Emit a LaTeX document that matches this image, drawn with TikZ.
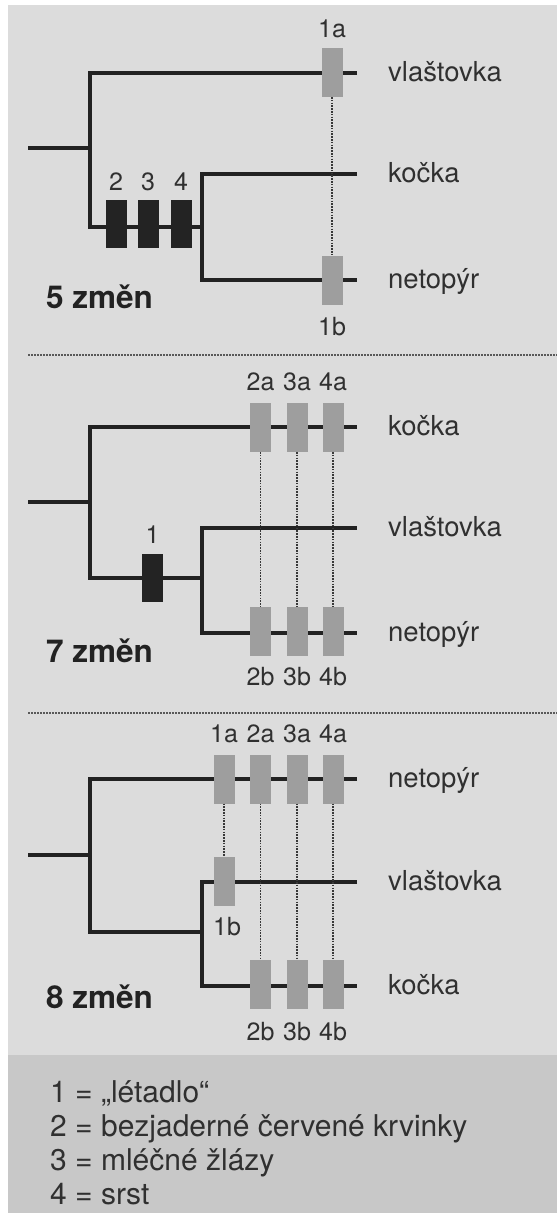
\documentclass[tikz,border=0pt]{standalone}
\usepackage{fontspec}
\setmainfont{TeX Gyre Heros}
\definecolor{bg}{HTML}{DCDCDC}
\definecolor{leg}{HTML}{C8C8C8}
\definecolor{ln}{HTML}{222222}
\definecolor{gbox}{HTML}{9E9E9E}
\definecolor{bbox}{HTML}{232323}
\definecolor{txt}{HTML}{303030}
\tikzset{
 branch/.style={draw=ln, line width=3.2pt},
 graymark/.style={fill=gbox, minimum width=21pt, minimum height=49pt, inner sep=0pt, outer sep=0pt},
 blackmark/.style={fill=bbox, minimum width=21pt, minimum height=48pt, inner sep=0pt, outer sep=0pt},
 link/.style={draw=ln!90, line width=1.6pt, dash pattern=on 1.6pt off 1.2pt},
 sepline/.style={draw=black!65, line width=2pt, dash pattern=on 1.5pt off 1.5pt},
 taxon/.style={anchor=base west, inner sep=0pt, text=txt, font=\fontsize{27.5}{31}\selectfont},
 mlabel/.style={anchor=base, inner sep=0pt, text=txt, font=\fontsize{25}{29}\selectfont},
 count/.style={anchor=base west, inner sep=0pt, text=ln, font=\fontsize{31.5}{35}\selectfont\bfseries},
 legtext/.style={anchor=base west, inner sep=0pt, text=txt, font=\fontsize{30}{34}\selectfont},
}
\begin{document}
\begin{tikzpicture}[x=1pt,y=-1pt]
\useasboundingbox (0,0) rectangle (557,1213);
\fill[white] (0,0) rectangle (557,1213);
\fill[bg] (8,5) rectangle (557,1213);
\fill[leg] (8,1055) rectangle (557,1213);

% ---------- Section A: 5 zmen ----------
\coordinate (A0) at (28,148);
\coordinate (Aj) at (90,148);
\coordinate (Avl) at (357,73);
\coordinate (A2) at (202,227);
\coordinate (Ako) at (357,174);
\coordinate (Ane) at (357,280);
\draw[branch] (A0) -- (Aj);
\draw[branch] (Avl) -| (Aj) |- (A2);
\draw[branch] (Ako) -| (A2) |- (Ane);
\node[blackmark] (A2m) at (116,224) {};
\node[blackmark] (A3m) at (148,224) {};
\node[blackmark] (A4m) at (181,224) {};
\node[mlabel] (A2l) at (116,190) {2};
\node[mlabel] (A3l) at (148,190) {3};
\node[mlabel] (A4l) at (181,190) {4};
\node[graymark] (A1a) at (332,72.5) {};
\node[graymark] (A1b) at (332,280.5) {};
\draw[link] (A1a.south) -- (A1b.north);
\node[mlabel] (A1al) at (332,37) {1a};
\node[mlabel] (A1bl) at (332,335) {1b};
\node[taxon] (Avlt) at (388,81) {vlaštovka};
\node[taxon] (Akot) at (388,182) {kočka};
\node[taxon] (Anet) at (388,288) {netopýr};
\node[count] (Ac) at (46,308) {5 změn};

\coordinate (S1a) at (28,355);
\coordinate (S1b) at (557,355);
\draw[sepline] (S1a) -- (S1b);

% ---------- Section B: 7 zmen ----------
\coordinate (B0) at (28,502);
\coordinate (Bj) at (90,502);
\coordinate (Bko) at (357,427);
\coordinate (B2) at (202,578);
\coordinate (Bvl) at (357,528);
\coordinate (Bne) at (357,633);
\draw[branch] (B0) -- (Bj);
\draw[branch] (Bko) -| (Bj) |- (B2);
\draw[branch] (Bvl) -| (B2) |- (Bne);
\node[blackmark] (B1m) at (152.5,577.5) {};
\node[mlabel] (B1l) at (152.5,543) {1};
\foreach \k/\x in {2/260.5,3/297,4/333}{
  \node[graymark] (B\k a) at (\x,427.5) {};
  \node[graymark] (B\k b) at (\x,631) {};
  \draw[link] (B\k a.south) -- (B\k b.north);
  \node[mlabel] (B\k al) at (\x,390) {\k a};
  \node[mlabel] (B\k bl) at (\x,685) {\k b};
}
\node[taxon] (Bkot) at (388,435) {kočka};
\node[taxon] (Bvlt) at (388,536) {vlaštovka};
\node[taxon] (Bnet) at (388,641) {netopýr};
\node[count] (Bc) at (46,662) {7 změn};

\coordinate (S2a) at (28,713);
\coordinate (S2b) at (557,713);
\draw[sepline] (S2a) -- (S2b);

% ---------- Section C: 8 zmen ----------
\coordinate (C0) at (28,855);
\coordinate (Cj) at (90,855);
\coordinate (Cne) at (357,779);
\coordinate (C2) at (202,932);
\coordinate (Cvl) at (357,882);
\coordinate (Cko) at (357,986);
\draw[branch] (C0) -- (Cj);
\draw[branch] (Cne) -| (Cj) |- (C2);
\draw[branch] (Cvl) -| (C2) |- (Cko);
\node[graymark] (C1a) at (224,779) {};
\node[graymark] (C1b) at (224,881) {};
\draw[link] (C1a.south) -- (C1b.north);
\node[mlabel] (C1al) at (224,742) {1a};
\node[mlabel] (C1bl) at (227,935) {1b};
\foreach \k/\x in {2/260.5,3/297,4/333}{
  \node[graymark] (C\k a) at (\x,779) {};
  \node[graymark] (C\k b) at (\x,984.5) {};
  \draw[link] (C\k a.south) -- (C\k b.north);
  \node[mlabel] (C\k al) at (\x,742) {\k a};
  \node[mlabel] (C\k bl) at (\x,1040) {\k b};
}
\node[taxon] (Cnet) at (388,787) {netopýr};
\node[taxon] (Cvlt) at (388,890) {vlaštovka};
\node[taxon] (Ckot) at (388,994) {kočka};
\node[count] (Cc) at (46,1008) {8 změn};

% ---------- Legend ----------
\node[legtext] (L1) at (50,1102) {1 = „létadlo“};
\node[legtext] (L2) at (50,1136) {2 = bezjaderné červené krvinky};
\node[legtext] (L3) at (50,1170) {3 = mléčné žlázy};
\node[legtext] (L4) at (50,1204) {4 = srst};
\end{tikzpicture}
\end{document}
